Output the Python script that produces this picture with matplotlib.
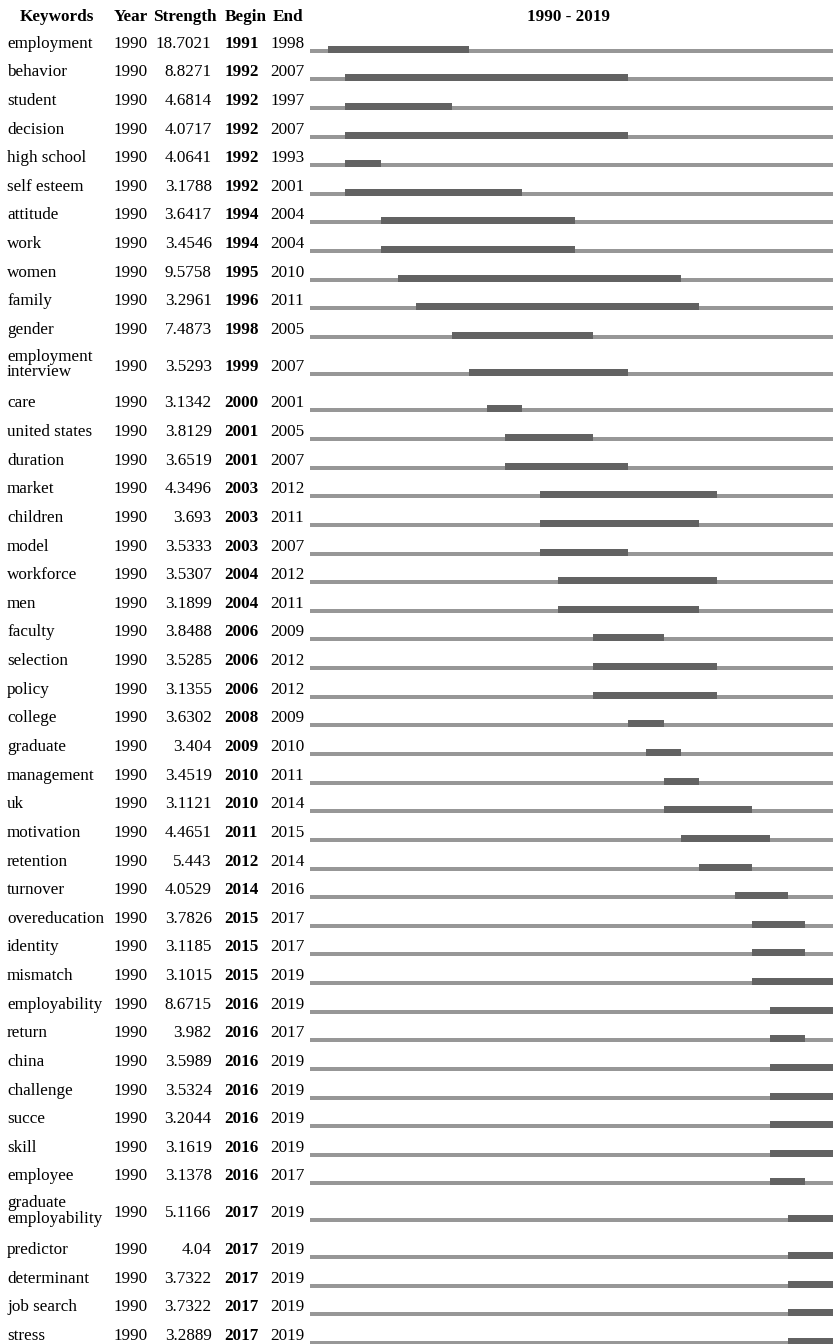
import textwrap
import numpy as np
import matplotlib
matplotlib.use('Agg')
import matplotlib.pyplot as plt

# Burst keywords, 1990 - 2019
keywords = ['employment', 'behavior', 'student', 'decision', 'high school', 'self esteem',
            'attitude', 'work', 'women', 'family', 'gender', 'employment interview', 'care',
            'united states', 'duration', 'market', 'children', 'model', 'workforce', 'men',
            'faculty', 'selection', 'policy', 'college', 'graduate', 'management', 'uk',
            'motivation', 'retention', 'turnover', 'overeducation', 'identity', 'mismatch',
            'employability', 'return', 'china', 'challenge', 'succe', 'skill', 'employee',
            'graduate employability', 'predictor', 'determinant', 'job search', 'stress']
year = [1990] * len(keywords)
strength = [18.7021, 8.8271, 4.6814, 4.0717, 4.0641, 3.1788, 3.6417, 3.4546, 9.5758, 3.2961,
            7.4873, 3.5293, 3.1342, 3.8129, 3.6519, 4.3496, 3.693, 3.5333, 3.5307, 3.1899,
            3.8488, 3.5285, 3.1355, 3.6302, 3.404, 3.4519, 3.1121, 4.4651, 5.443, 4.0529,
            3.7826, 3.1185, 3.1015, 8.6715, 3.982, 3.5989, 3.5324, 3.2044, 3.1619, 3.1378,
            5.1166, 4.04, 3.7322, 3.7322, 3.2889]
begin = [1991, 1992, 1992, 1992, 1992, 1992, 1994, 1994, 1995, 1996, 1998, 1999, 2000, 2001,
         2001, 2003, 2003, 2003, 2004, 2004, 2006, 2006, 2006, 2008, 2009, 2010, 2010, 2011,
         2012, 2014, 2015, 2015, 2015, 2016, 2016, 2016, 2016, 2016, 2016, 2016, 2017, 2017,
         2017, 2017, 2017]
end = [1998, 2007, 1997, 2007, 1993, 2001, 2004, 2004, 2010, 2011, 2005, 2007, 2001, 2005,
       2007, 2012, 2011, 2007, 2012, 2011, 2009, 2012, 2012, 2009, 2010, 2011, 2014, 2015,
       2014, 2016, 2017, 2017, 2019, 2019, 2017, 2019, 2019, 2019, 2019, 2017, 2019, 2019,
       2019, 2019, 2019]
first_year, last_year = 1990, 2019

light = '#979797'		# whole period line
dark = '#626262'		# burst period
W, H = 833, 1344

plt.rcParams['font.family'] = ['Liberation Serif', 'DejaVu Serif']
fs = 12.3

fig = plt.figure(figsize=(W / 100.0, H / 100.0), dpi=100)
tab = fig.add_axes([0, 0, 1, 1])		# table part, pixel units
tab.set_xlim(0, W)
tab.set_ylim(H, 0)
tab.axis('off')

# timeline runs a bit past the right edge of the picture
x0, yr_w = 310.0, 17.69
ax = fig.add_axes([x0 / W, 0, yr_w * (last_year + 1 - first_year) / W, 1])
ax.set_xlim(first_year, last_year + 1)
ax.set_ylim(H, 0)
ax.axis('off')

# row layout: two line labels make a taller row
labels = [textwrap.fill(k, 14) for k in keywords]
row_h = np.array([44.8 if '\n' in l else 28.63 for l in labels])
y_line = 50.7 - row_h[0] / 2 + np.cumsum(row_h) - row_h / 2

# header
hy = 17
tab.text(57, hy, 'Keywords', fontsize=fs, weight='bold', ha='center', va='center')
tab.text(130.5, hy, 'Year', fontsize=fs, weight='bold', ha='center', va='center')
tab.text(185, hy, 'Strength', fontsize=fs, weight='bold', ha='center', va='center')
tab.text(245.5, hy, 'Begin', fontsize=fs, weight='bold', ha='center', va='center')
tab.text(288, hy, 'End', fontsize=fs, weight='bold', ha='center', va='center')
tab.text(569, hy, '%d - %d' % (first_year, last_year), fontsize=fs, weight='bold', ha='center', va='center')

for i in range(len(keywords)):
	ty = y_line[i] - 7		# text sits just above the line
	ky = ty
	if '\n' in labels[i]:
		ky = y_line[i] - 9
	tab.text(7, ky, labels[i], fontsize=fs, ha='left', va='center', linespacing=0.95)
	tab.text(130.5, ty, '%d' % year[i], fontsize=fs, ha='center', va='center')
	tab.text(211.7, ty, '%s' % strength[i], fontsize=fs, ha='right', va='center')
	tab.text(224.5, ty, '%d' % begin[i], fontsize=fs, weight='bold', ha='left', va='center')
	tab.text(287.5, ty, '%d' % end[i], fontsize=fs, ha='center', va='center')

# bars
ax.barh(y_line, last_year + 1 - first_year, left=first_year, height=4, color=light, linewidth=0)
ax.barh(y_line - 1.5, np.array(end) + 1 - np.array(begin), left=begin, height=7, color=dark, linewidth=0)

fig.savefig('out.png', dpi=100)
